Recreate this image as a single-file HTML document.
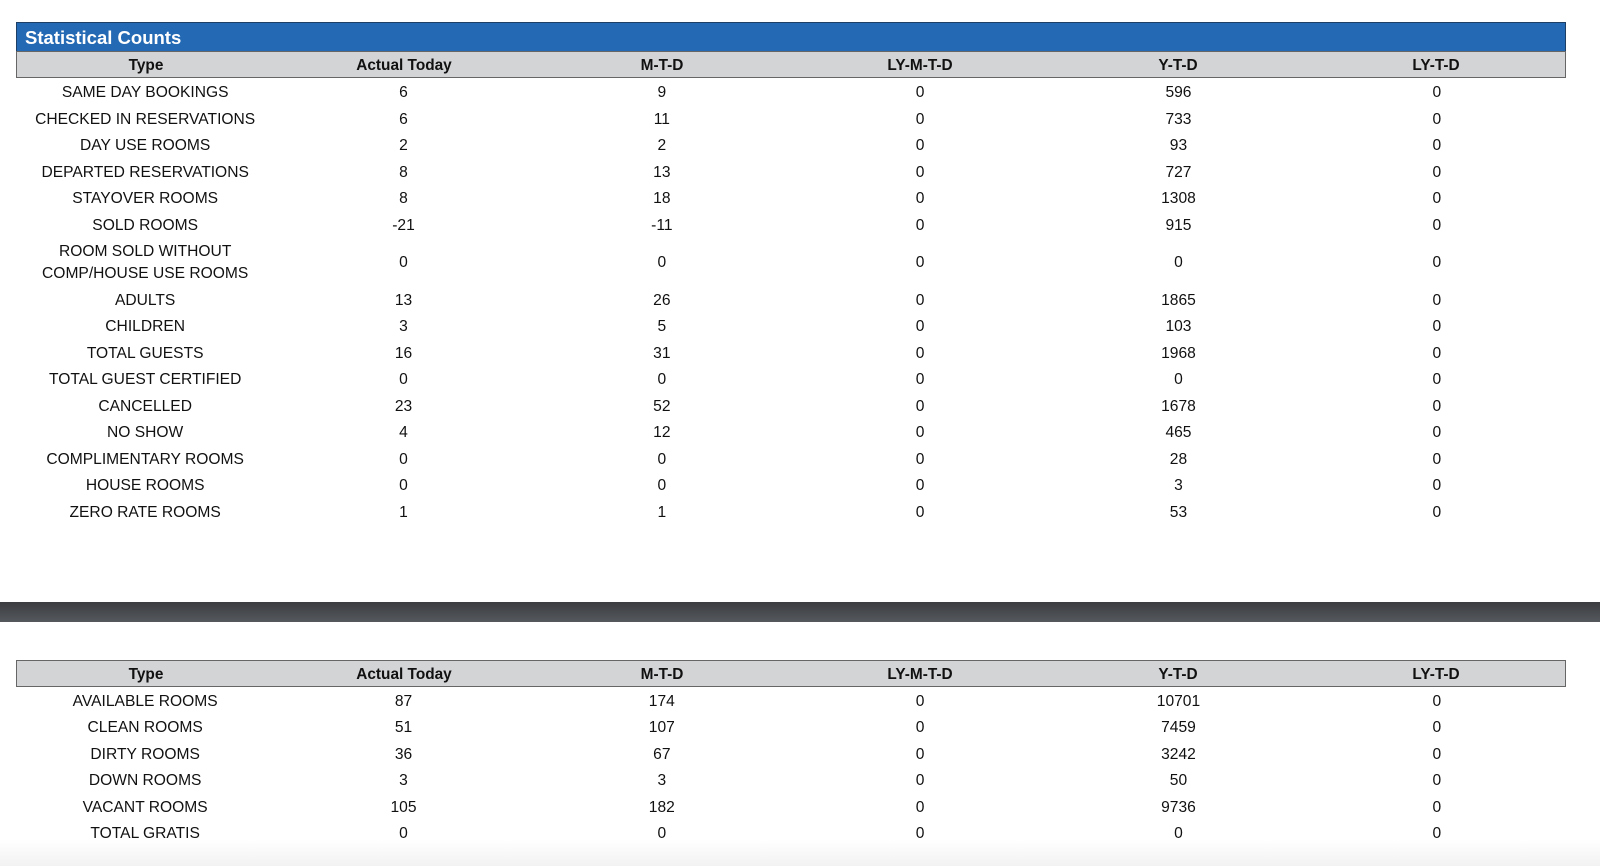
<!DOCTYPE html>
<html><head><meta charset="utf-8"><style>
*{margin:0;padding:0;box-sizing:border-box}
body{width:1600px;height:866px;background:#fff;font-family:"Liberation Sans",Arial,sans-serif;position:relative;overflow:hidden;color:#111}
.title{position:absolute;left:16px;top:22px;width:1550px;height:30px;background:#2469b3;border:1px solid #1d3f66;color:#fff;font-weight:bold;font-size:18.5px;line-height:30px;padding-left:8px}
.hdr{position:absolute;left:16px;width:1550px;height:27px;background:#d3d4d6;border:1px solid #666;display:flex;font-weight:bold;font-size:15.4px;line-height:28px}
.hdr div,.row div{flex:1;text-align:center}
.row{position:absolute;left:16px;width:1550px;display:flex;font-size:15.6px;line-height:26.5px;height:26.5px}
.row.dbl{height:48.5px;align-items:center}
.row.dbl div{line-height:22.4px}
.bar{position:absolute;left:0;top:602px;width:1600px;height:20px;background:linear-gradient(#3a3c40,#55585d)}
.fade{position:absolute;left:0;top:840px;width:1600px;height:26px;background:linear-gradient(#fff,#f2f2f2)}
</style></head><body>
<div class="title">Statistical Counts</div>
<div class="hdr" style="top:51px"><div>Type</div><div>Actual Today</div><div>M-T-D</div><div>LY-M-T-D</div><div>Y-T-D</div><div>LY-T-D</div></div>
<div class="fade"></div>
<div class="row" style="top:80px"><div>SAME DAY BOOKINGS</div><div>6</div><div>9</div><div>0</div><div>596</div><div>0</div></div>
<div class="row" style="top:106.5px"><div>CHECKED IN RESERVATIONS</div><div>6</div><div>11</div><div>0</div><div>733</div><div>0</div></div>
<div class="row" style="top:133px"><div>DAY USE ROOMS</div><div>2</div><div>2</div><div>0</div><div>93</div><div>0</div></div>
<div class="row" style="top:159.5px"><div>DEPARTED RESERVATIONS</div><div>8</div><div>13</div><div>0</div><div>727</div><div>0</div></div>
<div class="row" style="top:186px"><div>STAYOVER ROOMS</div><div>8</div><div>18</div><div>0</div><div>1308</div><div>0</div></div>
<div class="row" style="top:212.5px"><div>SOLD ROOMS</div><div>-21</div><div>-11</div><div>0</div><div>915</div><div>0</div></div>
<div class="row dbl" style="top:239px"><div>ROOM SOLD WITHOUT<br>COMP/HOUSE USE ROOMS</div><div>0</div><div>0</div><div>0</div><div>0</div><div>0</div></div>
<div class="row" style="top:287.5px"><div>ADULTS</div><div>13</div><div>26</div><div>0</div><div>1865</div><div>0</div></div>
<div class="row" style="top:314px"><div>CHILDREN</div><div>3</div><div>5</div><div>0</div><div>103</div><div>0</div></div>
<div class="row" style="top:340.5px"><div>TOTAL GUESTS</div><div>16</div><div>31</div><div>0</div><div>1968</div><div>0</div></div>
<div class="row" style="top:367px"><div>TOTAL GUEST CERTIFIED</div><div>0</div><div>0</div><div>0</div><div>0</div><div>0</div></div>
<div class="row" style="top:393.5px"><div>CANCELLED</div><div>23</div><div>52</div><div>0</div><div>1678</div><div>0</div></div>
<div class="row" style="top:420px"><div>NO SHOW</div><div>4</div><div>12</div><div>0</div><div>465</div><div>0</div></div>
<div class="row" style="top:446.5px"><div>COMPLIMENTARY ROOMS</div><div>0</div><div>0</div><div>0</div><div>28</div><div>0</div></div>
<div class="row" style="top:473px"><div>HOUSE ROOMS</div><div>0</div><div>0</div><div>0</div><div>3</div><div>0</div></div>
<div class="row" style="top:499.5px"><div>ZERO RATE ROOMS</div><div>1</div><div>1</div><div>0</div><div>53</div><div>0</div></div>
<div class="bar"></div>
<div class="hdr" style="top:660px"><div>Type</div><div>Actual Today</div><div>M-T-D</div><div>LY-M-T-D</div><div>Y-T-D</div><div>LY-T-D</div></div>
<div class="row" style="top:688.5px"><div>AVAILABLE ROOMS</div><div>87</div><div>174</div><div>0</div><div>10701</div><div>0</div></div>
<div class="row" style="top:715px"><div>CLEAN ROOMS</div><div>51</div><div>107</div><div>0</div><div>7459</div><div>0</div></div>
<div class="row" style="top:741.5px"><div>DIRTY ROOMS</div><div>36</div><div>67</div><div>0</div><div>3242</div><div>0</div></div>
<div class="row" style="top:768px"><div>DOWN ROOMS</div><div>3</div><div>3</div><div>0</div><div>50</div><div>0</div></div>
<div class="row" style="top:794.5px"><div>VACANT ROOMS</div><div>105</div><div>182</div><div>0</div><div>9736</div><div>0</div></div>
<div class="row" style="top:821px"><div>TOTAL GRATIS</div><div>0</div><div>0</div><div>0</div><div>0</div><div>0</div></div>
</body></html>
